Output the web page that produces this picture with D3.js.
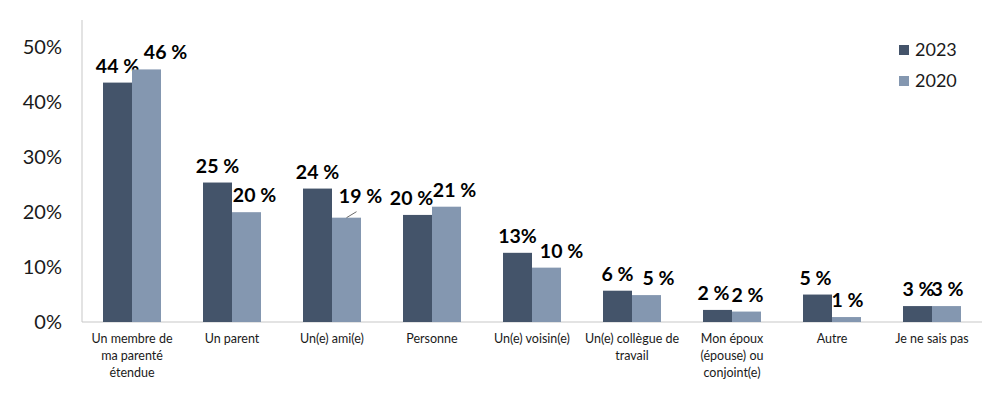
<!DOCTYPE html>
<html><head><meta charset="utf-8">
<script src="https://cdn.jsdelivr.net/npm/d3@7"></script>
<style>
html,body{margin:0;padding:0;background:#fff;}
svg{display:block;font-family:Lato,"Open Sans",sans-serif;}
</style></head>
<body><svg id="c" width="1000" height="418"></svg>
<script>
const categories = [
  ["Un membre de","ma parenté","étendue"],
  ["Un parent"],
  ["Un(e) ami(e)"],
  ["Personne"],
  ["Un(e) voisin(e)"],
  ["Un(e) collègue de","travail"],
  ["Mon époux","(épouse) ou","conjoint(e)"],
  ["Autre"],
  ["Je ne sais pas"]
];
const seriesNames = ["2023","2020"];
const values2023 = [43.6, 25.4, 24.3, 19.5, 12.6, 5.7, 2.2, 5.0, 2.9];
const values2020 = [46.0, 20.0, 19.0, 21.0, 9.9, 4.9, 1.9, 0.9, 2.9];
const labels2023 = ["44 %","25 %","24 %","20 %","13%","6 %","2 %","5 %","3 %"];
const labels2020 = ["46 %","20 %","19 %","21 %","10 %","5 %","2 %","1 %","3 %"];
const yTicks = [0,10,20,30,40,50];
const colors = ["#44546A","#8497B0"];
// layout: horizontal nudges of the data labels (px), as placed in the original
const labelShift = [[0,0,0,-6,0,0,-4,-2,1],[19,8,14,8,15,12,1,1,1]];

const svg = d3.select("#c");
const x0 = d3.scaleBand().domain(d3.range(categories.length)).range([82,982]).paddingInner(0.42).paddingOuter(0.21);
const x1 = d3.scaleBand().domain(seriesNames).range([0,x0.bandwidth()]);
const y = d3.scaleLinear().domain([0,55]).range([322,20]);

// axes
svg.append("line").attr("x1",82).attr("x2",82).attr("y1",y(55)).attr("y2",y(0)).attr("stroke","#D0D0D0").attr("stroke-width",1.2);
svg.append("line").attr("x1",82).attr("x2",982).attr("y1",y(0)).attr("y2",y(0)).attr("stroke","#C8C8C8").attr("stroke-width",1.2);

svg.append("g").selectAll("text").data(yTicks).join("text")
  .attr("x",62).attr("y",d=>y(d)).attr("dy","0.35em").attr("text-anchor","end")
  .attr("font-size",20).attr("fill","#1a1a1a").text(d=>d+"%");

const series = [values2023, values2020];
const labs = [labels2023, labels2020];
series.forEach((vals,si)=>{
  const g = svg.append("g");
  g.selectAll("rect").data(vals).join("rect")
    .attr("x",(d,i)=>x0(i)+x1(seriesNames[si]))
    .attr("width",x1.bandwidth())
    .attr("y",d=>y(d)).attr("height",d=>y(0)-y(d))
    .attr("fill",colors[si]);
  g.selectAll("text").data(vals).join("text")
    .attr("x",(d,i)=>x0(i)+x1(seriesNames[si])+x1.bandwidth()/2 + labelShift[si][i])
    .attr("y",(d,i)=>y(d)-10-(si===1&&i===2?5:0))
    .attr("text-anchor","middle").attr("font-size",19.5).attr("font-weight","bold").attr("fill","#000")
    .text((d,i)=>labs[si][i]);
});
// leader line for 19 %
{
  const i=2, bx = x0(i)+x1("2020")+x1.bandwidth()/2;
  svg.append("line").attr("x1",bx).attr("y1",y(values2020[i])).attr("x2",bx+10).attr("y2",y(values2020[i])-6)
    .attr("stroke","#444").attr("stroke-width",0.8);
}

// category labels
const cg = svg.append("g");
categories.forEach((lines,i)=>{
  const t = cg.append("text").attr("x",x0(i)+x0.bandwidth()/2).attr("y",343)
    .attr("text-anchor","middle").attr("font-size",12.5).attr("fill","#1a1a1a");
  lines.forEach((l,k)=>t.append("tspan").attr("x",x0(i)+x0.bandwidth()/2).attr("dy",k?17:0).text(l));
});

// legend
const lg = svg.append("g");
seriesNames.forEach((n,i)=>{
  lg.append("rect").attr("x",899).attr("y",45+i*31).attr("width",10).attr("height",10).attr("fill",colors[i]);
  lg.append("text").attr("x",915).attr("y",50+i*31).attr("dy","0.35em").attr("font-size",18).attr("fill","#1a1a1a").text(n);
});
</script></body></html>
